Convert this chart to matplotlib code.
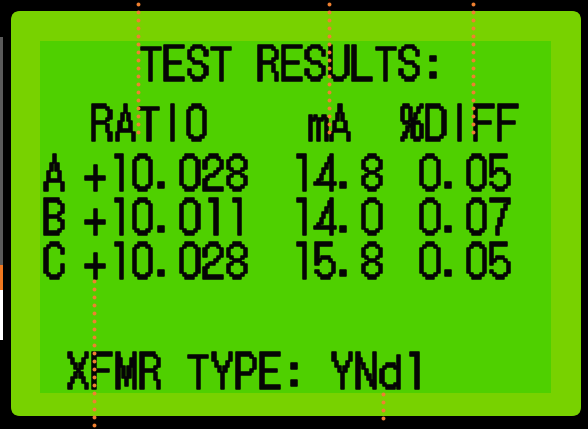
import matplotlib
matplotlib.use("Agg")
import matplotlib.pyplot as plt
import matplotlib.patheffects as pe
import numpy as np
from matplotlib.patches import FancyBboxPatch, Rectangle

# screen content
title_text = "TEST RESULTS:"
header_labels = ["RATIO", "mA", "%DIFF"]
phases = ["A", "B", "C"]
ratios = ["+10.028", "+10.011", "+10.028"]
currents = ["14.8", "14.0", "15.8"]
diffs = ["0.05", "0.07", "0.05"]
xfmr_label = "XFMR TYPE:"
xfmr_type = "YNd1"

# colours
BLACK = "#000000"
BEZEL = "#78d200"
SCREEN = "#4fd000"
INK = "#050505"
GUIDE = "#f08030"

LCD_FONT = ["DotGothic16", "DejaVu Sans Mono"]
FONT_SIZE = 32
THICK = [pe.withStroke(linewidth=1.1, foreground=INK)]


def lcd_text(ax, s, x0, y, pitch=23.7):
    # one text per character cell, like the dot-matrix display
    for i, ch in enumerate(s):
        if ch == " ":
            continue
        ax.text(x0 + i * pitch, y, ch, family=LCD_FONT, fontsize=FONT_SIZE,
                color=INK, ha="center", va="baseline", path_effects=THICK)


fig = plt.figure(figsize=(5.88, 4.29), dpi=100)
fig.patch.set_facecolor(BLACK)
ax = fig.add_axes([0, 0, 1, 1])
ax.set_xlim(0, 588)
ax.set_ylim(429, 0)
ax.axis("off")

# bits of the neighbouring picture at the left edge
ax.add_patch(Rectangle((0, 37), 2.5, 228, color="#5a5a5a", lw=0))
ax.add_patch(Rectangle((0, 265), 2.5, 25, color="#f07820", lw=0))
ax.add_patch(Rectangle((0, 290), 2.5, 50, color="#ffffff", lw=0))

# bezel and active screen area
ax.add_patch(FancyBboxPatch((11, 11), 570, 405, boxstyle="round,pad=0,rounding_size=9",
                            facecolor=BEZEL, edgecolor="none"))
ax.add_patch(Rectangle((40, 41), 511, 352, facecolor=SCREEN, edgecolor="none"))

# title and column headers
lcd_text(ax, title_text, 150.8, 79.5, 23.5)
lcd_text(ax, header_labels[0], 101.7, 139.3)
lcd_text(ax, header_labels[1], 318.5, 139.3, 21.5)
lcd_text(ax, header_labels[2], 411.7, 139.3, 24.0)

# rows A, B, C
row_base = [189.3, 233.3, 277.3]
for ph, r, c, d, yb in zip(phases, ratios, currents, diffs, row_base):
    lcd_text(ax, ph, 54.3, yb)
    lcd_text(ax, r, 95.3, yb, 23.6)
    lcd_text(ax, c, 301.8, yb, 23.4)
    lcd_text(ax, d, 430.0, yb, 23.3)

# transformer type line
lcd_text(ax, xfmr_label + " " + xfmr_type, 78.3, 387.3, 24.0)

# orange dotted guide lines
guide_x = [138, 328.5, 473, 94, 383.3]
guide_y0 = [4, 4, 4, 281, 394]
guide_y1 = [133, 133, 133, 426, 426]
for gx, g0, g1 in zip(guide_x, guide_y0, guide_y1):
    ys = np.arange(g0, g1, 8.0)
    ax.plot(np.full_like(ys, gx), ys, linestyle="none", marker="o", ms=2.8,
            mec="none", mfc=GUIDE, zorder=5)

fig.savefig("out.png", dpi=100, facecolor=BLACK)
